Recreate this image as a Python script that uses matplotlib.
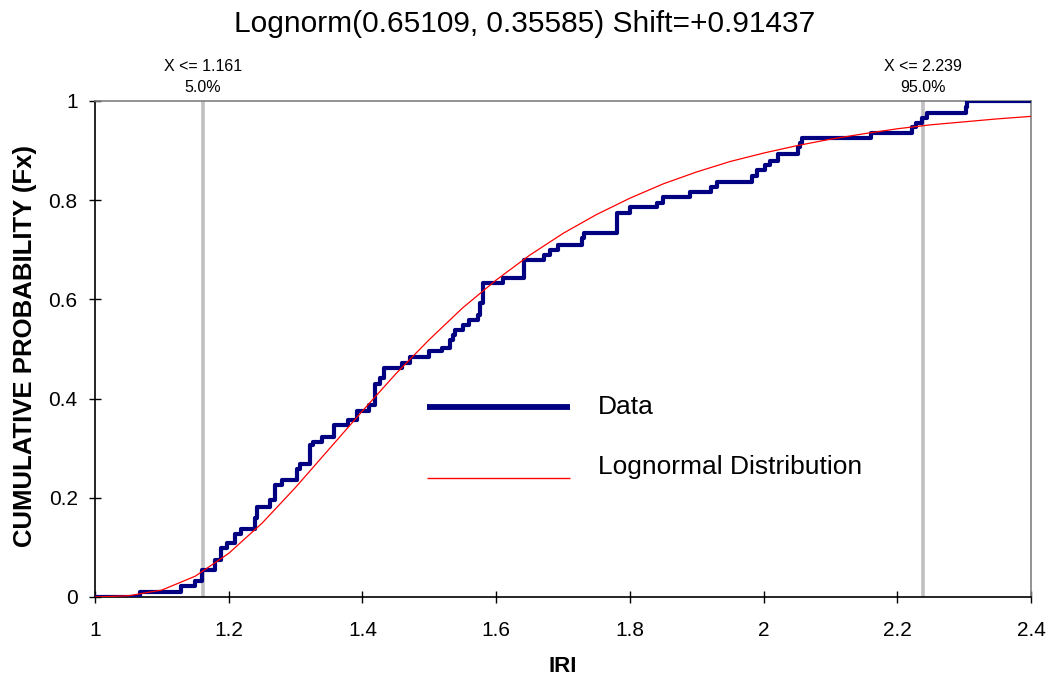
import matplotlib
matplotlib.use("Agg")
import matplotlib.pyplot as plt
from matplotlib.ticker import FuncFormatter

plt.rcParams['font.family'] = ['Liberation Sans', 'DejaVu Sans']

title = "Lognorm(0.65109, 0.35585) Shift=+0.91437"

# Empirical CDF step positions (IRI) and cumulative probability after each step
data_x = [1.0, 1.067, 1.128, 1.150, 1.160, 1.179, 1.189, 1.197, 1.209, 1.219,
          1.239, 1.242, 1.262, 1.269, 1.279, 1.302, 1.307, 1.322, 1.326, 1.339,
          1.358, 1.379, 1.392, 1.410, 1.419, 1.426, 1.433, 1.459, 1.471, 1.499,
          1.519, 1.531, 1.535, 1.538, 1.551, 1.560, 1.573, 1.576, 1.581, 1.611,
          1.641, 1.671, 1.681, 1.692, 1.729, 1.732, 1.781, 1.800, 1.841, 1.849,
          1.890, 1.921, 1.931, 1.983, 1.990, 2.002, 2.010, 2.022, 2.052, 2.055,
          2.058, 2.160, 2.222, 2.228, 2.237, 2.244, 2.303, 2.305, 2.4]
data_y = [0.0, 0.011, 0.023, 0.032, 0.054, 0.075, 0.098, 0.108, 0.128, 0.138,
          0.159, 0.181, 0.196, 0.226, 0.236, 0.259, 0.268, 0.306, 0.312, 0.322,
          0.347, 0.357, 0.376, 0.387, 0.429, 0.441, 0.462, 0.471, 0.484, 0.495,
          0.503, 0.518, 0.528, 0.538, 0.548, 0.558, 0.569, 0.592, 0.634, 0.644,
          0.679, 0.690, 0.700, 0.710, 0.723, 0.733, 0.775, 0.787, 0.795, 0.807,
          0.817, 0.826, 0.837, 0.848, 0.860, 0.870, 0.880, 0.893, 0.907, 0.916,
          0.926, 0.935, 0.947, 0.956, 0.966, 0.976, 0.987, 1.0, 1.0]

# Fitted lognormal CDF
fit_x = [1.0, 1.05, 1.1, 1.15, 1.2, 1.25, 1.3, 1.35, 1.4, 1.45, 1.5, 1.55,
         1.6, 1.65, 1.7, 1.75, 1.8, 1.85, 1.9, 1.95, 2.0, 2.05, 2.1, 2.15,
         2.2, 2.25, 2.3, 2.35, 2.4]
fit_y = [0.0001, 0.0025, 0.014, 0.042, 0.088, 0.149, 0.221, 0.298, 0.375,
         0.450, 0.519, 0.583, 0.639, 0.689, 0.733, 0.771, 0.804, 0.833, 0.857,
         0.878, 0.895, 0.910, 0.923, 0.934, 0.944, 0.952, 0.958, 0.964, 0.969]

marker_x = [1.161, 2.239]
marker_top = ["X <= 1.161", "X <= 2.239"]
marker_pct = ["5.0%", "95.0%"]

legend_labels = ["Data", "Lognormal Distribution"]

x_ticks = [1.0, 1.2, 1.4, 1.6, 1.8, 2.0, 2.2, 2.4]
y_ticks = [0, 0.2, 0.4, 0.6, 0.8, 1.0]

W, H = 1051, 681
fig = plt.figure(figsize=(W / 100, H / 100), dpi=100)
L, R, T, B = 95, 1031, 101, 597
ax = fig.add_axes([L / W, 1 - B / H, (R - L) / W, (B - T) / H])

def axx(px):
    return (px - L) / (R - L)

def axy(py):
    return (B - py) / (B - T)

for mx in marker_x:
    ax.plot([mx, mx], [0, 1.0], color='#c0c0c0', lw=2.6, zorder=1,
            solid_capstyle='butt')

ax.step(data_x, data_y, where='post', color='#000080', lw=3.0, zorder=3)
ax.plot(fit_x, fit_y, color='#ff0000', lw=0.9, zorder=4)

ax.set_xlim(1.0, 2.4)
ax.set_ylim(0, 1.0)
ax.set_xticks(x_ticks)
ax.set_yticks(y_ticks)
ax.xaxis.set_major_formatter(FuncFormatter(lambda v, p: f"{v:g}"))
ax.yaxis.set_major_formatter(FuncFormatter(lambda v, p: f"{v:g}"))
ax.tick_params(axis='both', direction='inout', length=9, width=1, labelsize=15,
               colors='black')
ax.tick_params(axis='x', pad=13)
ax.tick_params(axis='y', pad=8)

for s in ['left', 'bottom']:
    ax.spines[s].set_color('black')
    ax.spines[s].set_linewidth(1.2)
for s in ['top', 'right']:
    ax.spines[s].set_color('#808080')
    ax.spines[s].set_linewidth(1.2)

ax.set_xlabel("IRI", fontsize=16, fontweight='bold')
ax.xaxis.set_label_coords(0.5, axy(656))
ax.set_ylabel("CUMULATIVE PROBABILITY (Fx)", fontsize=18.5, fontweight='bold')
ax.yaxis.set_label_coords(axx(37), axy(346))

fig.text(525 / W, 1 - 24 / H, title, fontsize=21.5, ha='center', va='center')

for mx, t1, t2 in zip(marker_x, marker_top, marker_pct):
    ax.annotate(t1, xy=(mx, 1.0), xycoords='data', xytext=(0, 25),
                textcoords='offset points', ha='center', va='center', fontsize=11.5)
    ax.annotate(t2, xy=(mx, 1.0), xycoords='data', xytext=(0, 10),
                textcoords='offset points', ha='center', va='center', fontsize=11.5)

# Legend drawn inside plot area
ax.plot([axx(427), axx(570)], [axy(407), axy(407)], transform=ax.transAxes,
        color='#000080', lw=4.2, solid_capstyle='butt', zorder=5)
ax.text(axx(598), axy(407), legend_labels[0], transform=ax.transAxes,
        fontsize=19, ha='left', va='center')
ax.plot([axx(427), axx(570)], [axy(478), axy(478)], transform=ax.transAxes,
        color='#ff0000', lw=1.0, solid_capstyle='butt', zorder=5)
ax.text(axx(598), axy(467), legend_labels[1], transform=ax.transAxes,
        fontsize=19, ha='left', va='center')

fig.savefig("out.png", dpi=100, facecolor='white')
